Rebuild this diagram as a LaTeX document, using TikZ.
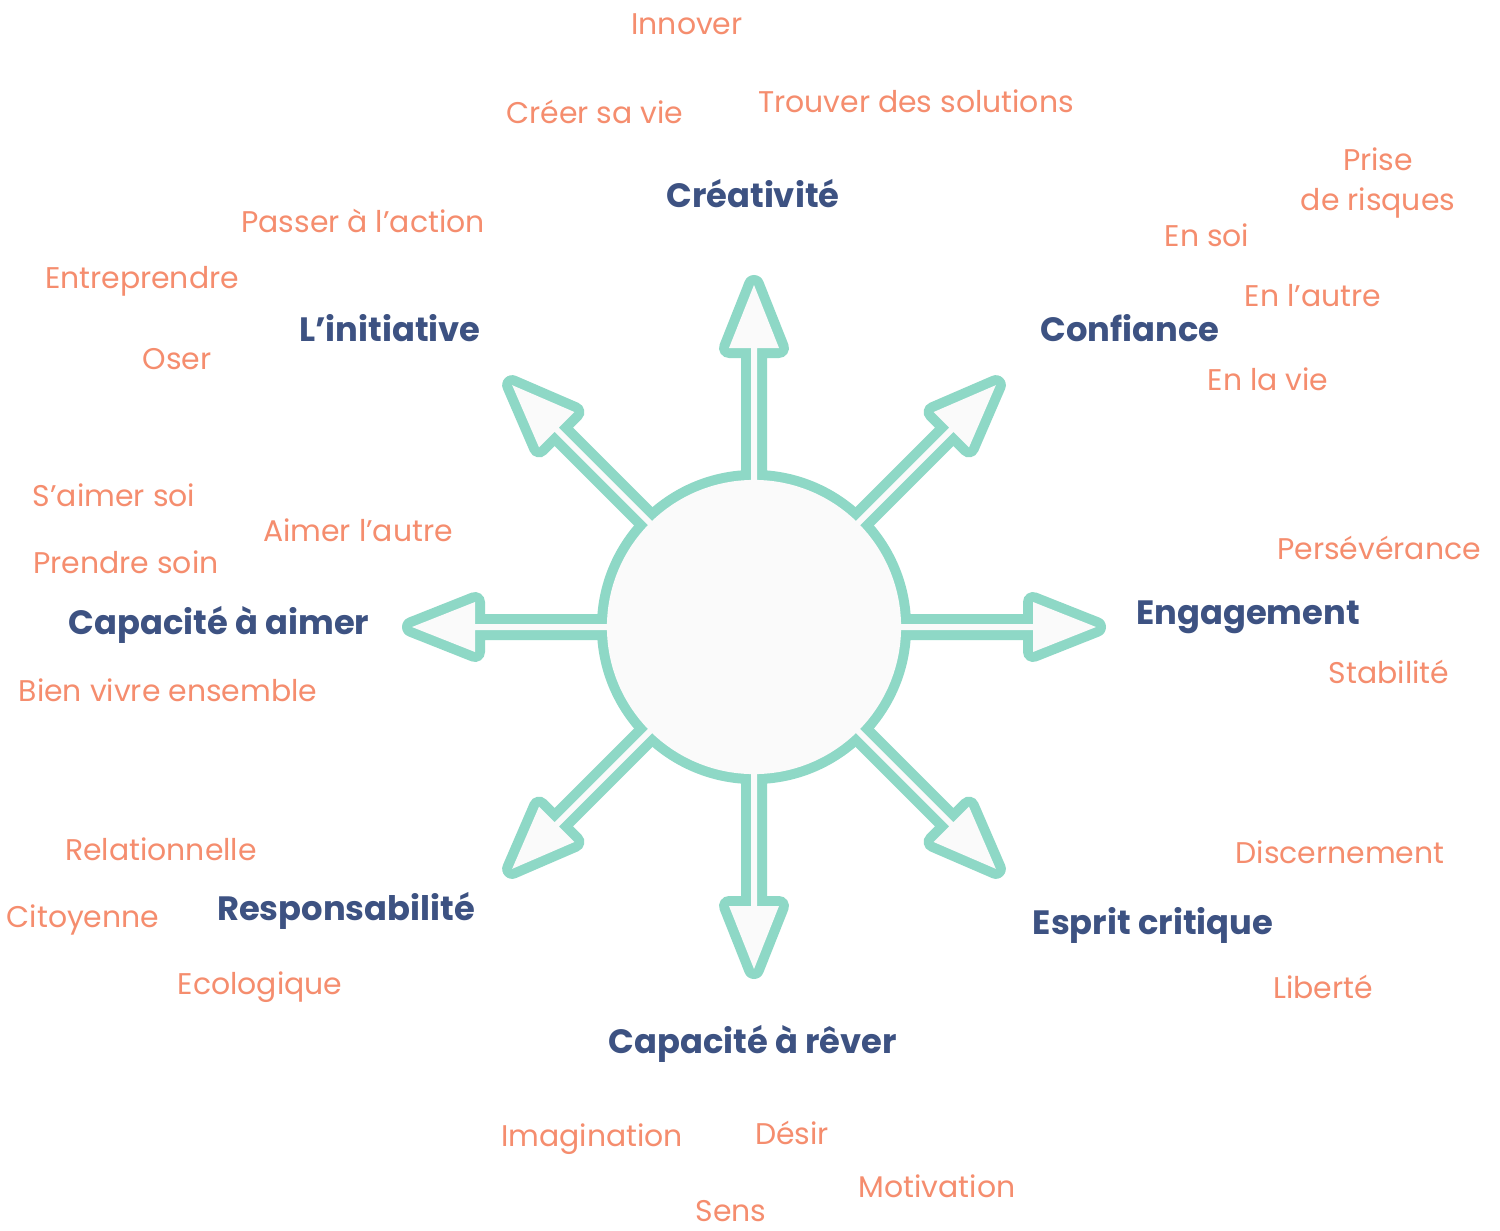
\documentclass[tikz,border=0pt]{standalone}
\usepackage{fontspec}
\setmainfont{Poppins}
\definecolor{tealc}{HTML}{8ED8C6}
\definecolor{fillc}{HTML}{FAFAFA}
\definecolor{bluec}{HTML}{3D5282}
\definecolor{orangec}{HTML}{F58D6E}
\tikzset{
  lbl/.style={text=orangec, inner sep=0pt, anchor=center, font=\fontsize{8.5}{10}\selectfont},
  ttl/.style={text=bluec, inner sep=0pt, anchor=center, font=\fontsize{9.6}{11}\selectfont\bfseries},
  outl/.style={draw=tealc, line width=0.2cm, line join=round},
  inn/.style={fill=fillc}
}
\begin{document}
\begin{tikzpicture}[x=0.01cm,y=-0.01cm]
\useasboundingbox[fill=white] (0,0) rectangle (1500,1230);
\coordinate (C) at (754,627);
% outline layer
\foreach \a in {0,45,...,315}{
  \begin{scope}[shift={(C)}, rotate=\a]
    \path[outl] (0,-3) -- (279,-3) -- (279,-25) -- (342,0) -- (279,25) -- (279,3) -- (0,3) -- cycle;
  \end{scope}
}
\path[outl] (C) circle[radius=1.47cm];
% fill layer
\foreach \a in {0,45,...,315}{
  \begin{scope}[shift={(C)}, rotate=\a]
    \path[inn] (0,-3) -- (279,-3) -- (279,-25) -- (342,0) -- (279,25) -- (279,3) -- (0,3) -- cycle;
  \end{scope}
}
\path[inn] (C) circle[radius=1.47cm];

% titles
\node[ttl] (t1) at (753,194) {Créativité};
\node[ttl] (t2) at (1130,328) {Confiance};
\node[ttl] (t3) at (1248,617) {Engagement};
\node[ttl] (t4) at (1153,925) {Esprit critique};
\node[ttl] (t5) at (753,1044) {Capacité à rêver};
\node[ttl] (t6) at (346,911) {Responsabilité};
\node[ttl] (t7) at (219,625) {Capacité à aimer};
\node[ttl] (t8) at (390,328) {L’initiative};

% labels
\node[lbl] (l1) at (687,24) {Innover};
\node[lbl] (l2) at (595,112) {Créer sa vie};
\node[lbl] (l3) at (916,101) {Trouver des solutions};
\node[lbl] (l4) at (1378,159) {Prise};
\node[lbl] (l5) at (1378,203) {de risques};
\node[lbl] (l6) at (1207,235) {En soi};
\node[lbl] (l7) at (1313,296) {En l’autre};
\node[lbl] (l8) at (1268,379) {En la vie};
\node[lbl] (l9) at (363,221) {Passer à l’action};
\node[lbl] (l10) at (142,281) {Entreprendre};
\node[lbl] (l11) at (177,359) {Oser};
\node[lbl] (l12) at (114,495) {S’aimer soi};
\node[lbl] (l13) at (358,530) {Aimer l’autre};
\node[lbl] (l14) at (126,562) {Prendre soin};
\node[lbl] (l15) at (168,690) {Bien vivre ensemble};
\node[lbl] (l16) at (1379,548) {Persévérance};
\node[lbl] (l17) at (1389,672) {Stabilité};
\node[lbl] (l18) at (161,849) {Relationnelle};
\node[lbl] (l19) at (83,920) {Citoyenne};
\node[lbl] (l20) at (260,987) {Ecologique};
\node[lbl] (l21) at (1340,852) {Discernement};
\node[lbl] (l22) at (1323,987) {Liberté};
\node[lbl] (l23) at (592,1139) {Imagination};
\node[lbl] (l24) at (792,1133) {Désir};
\node[lbl] (l25) at (937,1186) {Motivation};
\node[lbl] (l26) at (731,1211) {Sens};
\end{tikzpicture}
\end{document}
